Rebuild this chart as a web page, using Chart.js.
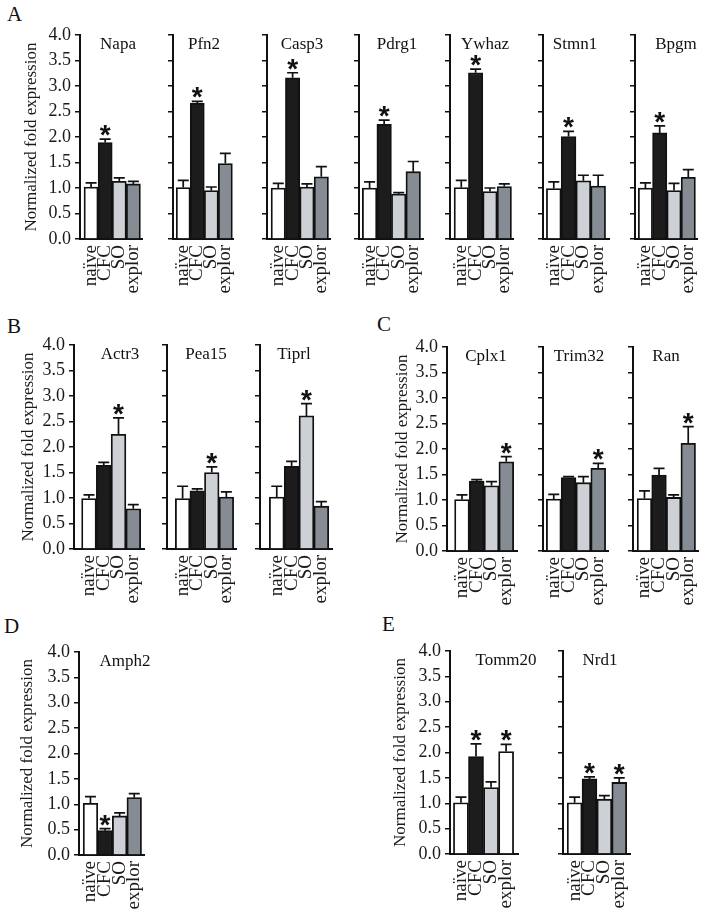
<!DOCTYPE html>
<html><head><meta charset="utf-8">
<script src="https://cdn.jsdelivr.net/npm/chart.js@4"></script>
<style>
html,body{margin:0;padding:0;background:#fff}
body{width:720px;height:912px;position:relative;overflow:hidden}
canvas{position:absolute}
.lt{position:absolute;font:21px "Liberation Serif",serif;line-height:21px;color:#111}
</style></head><body>
<div class="lt" style="left:7px;top:4px">A</div>
<div class="lt" style="left:7px;top:316px">B</div>
<div class="lt" style="left:377px;top:314px">C</div>
<div class="lt" style="left:4px;top:616px">D</div>
<div class="lt" style="left:382px;top:614px">E</div>
<script>
// ---------- data ----------
const categories = ['naïve', 'CFC', 'SO', 'explor'];
const genes = ['Napa','Pfn2','Casp3','Pdrg1','Ywhaz','Stmn1','Bpgm',
               'Actr3','Pea15','Tiprl',
               'Cplx1','Trim32','Ran',
               'Amph2',
               'Tomm20','Nrd1'];
const means = [
  [1.02, 1.89, 1.13, 1.08],
  [1.01, 2.66, 0.95, 1.48],
  [1.00, 3.16, 1.02, 1.22],
  [1.00, 2.25, 0.88, 1.32],
  [1.01, 3.26, 0.93, 1.03],
  [0.99, 2.01, 1.14, 1.04],
  [1.00, 2.08, 0.95, 1.21],
  [0.99, 1.64, 2.25, 0.79],
  [0.99, 1.14, 1.50, 1.02],
  [1.02, 1.62, 2.61, 0.84],
  [1.01, 1.37, 1.28, 1.75],
  [1.02, 1.44, 1.34, 1.62],
  [1.03, 1.49, 1.05, 2.11],
  [1.02, 0.48, 0.77, 1.13],
  [1.01, 1.92, 1.31, 2.02],
  [1.01, 1.48, 1.08, 1.41]
];
const sems = [
  [0.08, 0.07, 0.07, 0.05],
  [0.14, 0.04, 0.07, 0.20],
  [0.09, 0.10, 0.06, 0.20],
  [0.12, 0.08, 0.03, 0.20],
  [0.14, 0.07, 0.07, 0.05],
  [0.13, 0.10, 0.11, 0.21],
  [0.10, 0.14, 0.14, 0.15],
  [0.07, 0.06, 0.32, 0.08],
  [0.24, 0.04, 0.11, 0.10],
  [0.21, 0.10, 0.24, 0.09],
  [0.09, 0.03, 0.08, 0.10],
  [0.09, 0.02, 0.12, 0.10],
  [0.15, 0.13, 0.05, 0.33],
  [0.13, 0.04, 0.06, 0.08],
  [0.11, 0.25, 0.11, 0.14],
  [0.11, 0.04, 0.07, 0.09]
];
const significant = [[1],[1],[1],[1],[1],[1],[1],[2],[2],[2],[3],[3],[3],[1],[1,3],[1,3]];
const yTickValues = [0, 0.5, 1, 1.5, 2, 2.5, 3, 3.5, 4];
const yTitle = 'Normalized fold expression';

// ---------- layout & style ----------
const barColors = ['#ffffff', '#1c1c1c', '#cdd1d6', '#868c93'];
const SERIF = '"Liberation Serif", "Times New Roman", serif';
// x0: y-axis line, bs/be: bar span, ae: x-axis end, top/bottom: plot (4.0 / 0.0), left: canvas left for first panel, tx: gene label centre
const panels = [
  {x0:80,  bs:85,  be:155, ae:157, top:35,  bottom:239, left:21,  tx:118},
  {x0:173, bs:177, be:247, ae:249, top:35,  bottom:239, tx:204},
  {x0:267, bs:272, be:342, ae:345, top:35,  bottom:239, tx:302},
  {x0:359, bs:363, be:433, ae:437, top:35,  bottom:239, tx:397},
  {x0:450, bs:455, be:525, ae:528, top:35,  bottom:239, tx:485},
  {x0:543, bs:547, be:617, ae:622, top:35,  bottom:239, tx:575},
  {x0:635, bs:639, be:709, ae:712, top:35,  bottom:239, tx:676},
  {x0:74,  bs:83,  be:153, ae:157, top:345, bottom:549, left:18,  tx:120},
  {x0:167, bs:177, be:247, ae:250, top:345, bottom:549, tx:206},
  {x0:260, bs:271, be:341, ae:345, top:345, bottom:549, tx:294},
  {x0:447, bs:456, be:526, ae:530, top:347, bottom:551, left:392, tx:486},
  {x0:543, bs:547, be:618, ae:622, top:347, bottom:551, tx:579},
  {x0:633, bs:638, be:708, ae:712, top:347, bottom:551, tx:666},
  {x0:79,  bs:84,  be:154, ae:158, top:652, bottom:855, left:17,  tx:125},
  {x0:450, bs:454, be:524, ae:530, top:651, bottom:854, left:390, tx:506, colors:['#ffffff','#1c1c1c','#cdd1d6','#ffffff']},
  {x0:563, bs:568, be:639, ae:643, top:651, bottom:854, tx:600}
];

const PAD_TOP = 15, X_H = 75, PAD_BOTTOM = 5, PAD_RIGHT = 6;

const overlay = {
  id: 'overlay',
  afterDatasetsDraw(chart, args, o) {
    const ctx = chart.ctx, y = chart.scales.y;
    const meta = chart.getDatasetMeta(0);
    ctx.save();
    ctx.strokeStyle = '#111';
    ctx.fillStyle = '#111';
    ctx.lineWidth = 1.7;
    meta.data.forEach((el, i) => {
      const yt = y.getPixelForValue(o.means[i] + o.sems[i]);
      ctx.beginPath();
      ctx.moveTo(el.x, el.y);
      ctx.lineTo(el.x, yt);
      ctx.moveTo(el.x - 5.5, yt);
      ctx.lineTo(el.x + 5.5, yt);
      ctx.stroke();
      if (o.sig.includes(i)) {
        ctx.font = 'bold 28px "Liberation Sans", Arial, sans-serif';
        ctx.textAlign = 'center';
        ctx.textBaseline = 'alphabetic';
        const m = ctx.measureText('*');
        const desc = m.actualBoundingBoxDescent || -11;
        ctx.fillText('*', el.x, yt - 3 - desc);
      }
    });
    ctx.font = '17px ' + SERIF;
    ctx.textAlign = 'center';
    ctx.textBaseline = 'alphabetic';
    ctx.fillText(o.gene, o.tx - o.left, chart.chartArea.top + 14);
    ctx.restore();
  }
};

panels.forEach((p, g) => {
  const first = p.left !== undefined;
  const left = first ? p.left : p.x0 - 12;
  const w = (p.be - p.bs) / 4;
  const xmin = -(p.bs + w / 2 - p.x0) / w;
  const xmax = (p.ae - p.bs - w / 2) / w;
  const cw = p.ae - left + PAD_RIGHT;
  const ch = PAD_TOP + (p.bottom - p.top) + X_H + PAD_BOTTOM;
  const cv = document.createElement('canvas');
  cv.width = cw; cv.height = ch;
  cv.style.left = left + 'px';
  cv.style.top = (p.top - PAD_TOP) + 'px';
  cv.style.width = cw + 'px'; cv.style.height = ch + 'px';
  document.body.appendChild(cv);
  const cols = p.colors || barColors;
  new Chart(cv, {
    type: 'bar',
    data: {
      datasets: [{
        data: means[g].map((v, i) => ({x: i, y: v})),
        backgroundColor: cols,
        borderColor: '#111',
        borderWidth: 1.8,
        borderSkipped: 'start',
        barPercentage: 1,
        categoryPercentage: 1
      }]
    },
    options: {
      responsive: false,
      animation: false,
      devicePixelRatio: 1,
      layout: {padding: {top: PAD_TOP, right: PAD_RIGHT, bottom: PAD_BOTTOM, left: 0}},
      plugins: {
        legend: {display: false},
        tooltip: {enabled: false},
        overlay: {means: means[g], sems: sems[g], sig: significant[g], gene: genes[g], tx: p.tx, left: left}
      },
      scales: {
        x: {
          type: 'linear',
          min: xmin, max: xmax,
          offset: false,
          afterBuildTicks: s => { s.ticks = categories.map((c, i) => ({value: i})); },
          afterFit: s => { s.height = X_H; },
          grid: {display: false, drawTicks: false, offset: false},
          border: {display: true, color: '#111', width: 2},
          ticks: {
            autoSkip: false,
            minRotation: 90, maxRotation: 90,
            padding: 6,
            color: '#1a1a1a',
            font: {family: SERIF, size: 19},
            callback: (v, i) => categories[i]
          }
        },
        y: {
          min: 0, max: 4,
          afterBuildTicks: s => { s.ticks = yTickValues.map(v => ({value: v})); },
          afterFit: s => { s.width = p.x0 - left; },
          grid: {display: true, drawOnChartArea: false, drawTicks: true, tickLength: 5, color: '#111', lineWidth: 1.5},
          border: {display: true, color: '#111', width: 2},
          ticks: {
            display: first,
            padding: 4,
            color: '#1a1a1a',
            font: {family: SERIF, size: 18},
            callback: v => v.toFixed(1)
          },
          title: {
            display: first,
            text: yTitle,
            color: '#1a1a1a',
            font: {family: SERIF, size: 17},
            padding: {top: 0, bottom: 0}
          }
        }
      }
    },
    plugins: [overlay]
  });
});
</script>
</body></html>
